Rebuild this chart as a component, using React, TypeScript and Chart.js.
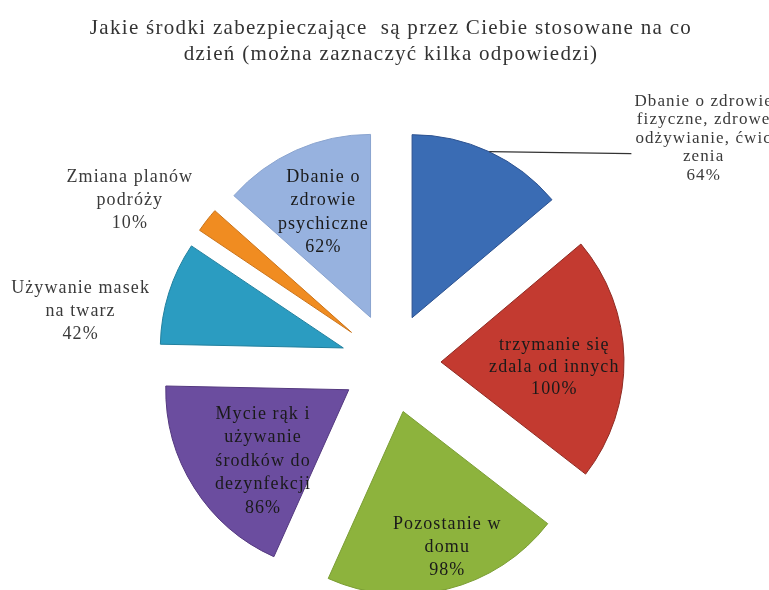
import React, { useEffect, useRef } from "react";
import { Chart, registerables } from "chart.js";

Chart.register(...registerables);

// ---- data ----
const titleLines = [
  "Jakie środki zabezpieczające  są przez Ciebie stosowane na co",
  "dzień (można zaznaczyć kilka odpowiedzi)",
];

const categories = [
  "Dbanie o zdrowie fizyczne, zdrowe odżywianie, ćwiczenia",
  "trzymanie się zdala od innych",
  "Pozostanie w domu",
  "Mycie rąk i używanie środków do dezynfekcji",
  "Używanie masek na twarz",
  "Zmiana planów podróży",
  "Dbanie o zdrowie psychiczne",
];

const values = [64, 100, 98, 86, 42, 10, 62];

const labelLines = [
  ["Dbanie o zdrowie", "fizyczne, zdrowe", "odżywianie, ćwic", "zenia"],
  ["trzymanie się", "zdala od innych"],
  ["Pozostanie w", "domu"],
  ["Mycie rąk i", "używanie", "środków do", "dezynfekcji"],
  ["Używanie masek", "na twarz"],
  ["Zmiana planów", "podróży"],
  ["Dbanie o", "zdrowie", "psychiczne"],
];

// ---- style ----
const fillColors = ["#3A6CB4", "#C33A30", "#8DB33D", "#6B4D9F", "#2B9CC1", "#F08C21", "#97B2DF"];
const borderColors = ["#2D5290", "#8E2A22", "#7A9D33", "#54397F", "#22809E", "#C9731A", "#8AA4CF"];
const EXPLODE = 50;
const RADIUS = 183;
// label placement relative to each exploded slice: radius factor and angle shift (deg)
const labelRadius = [1.87, 0.62, 0.78, 0.61, 1.45, 1.41, 0.63];
const labelAngle = [33.5, 4, -4, -7.5, -9.5, -7, 0];
const labelLineHeight = [18.5, 22, 23, 23.5, 23, 23, 23.5];
const labelOutside = [true, false, false, false, true, true, false];

const spacingPlugin = {
  id: "titleSpacing",
  beforeDraw(chart: any) {
    (chart.ctx as any).letterSpacing = "1.3px";
  },
  afterDraw(chart: any) {
    (chart.ctx as any).letterSpacing = "0px";
  },
};

const explodePlugin = {
  id: "explodeSlices",
  afterDatasetsUpdate(chart: any) {
    const meta = chart.getDatasetMeta(0);
    meta.data.forEach((el: any) => {
      const mid = (el.startAngle + el.endAngle) / 2;
      el.x = el.x + Math.cos(mid) * EXPLODE;
      el.y = el.y + Math.sin(mid) * EXPLODE;
    });
  },
};

const labelPlugin = {
  id: "sliceLabels",
  afterDatasetsDraw(chart: any) {
    const ctx = chart.ctx as CanvasRenderingContext2D;
    const meta = chart.getDatasetMeta(0);
    ctx.save();
    ctx.font = "18px 'Liberation Serif'";
    (ctx as any).letterSpacing = "1.1px";
    ctx.textAlign = "center";
    ctx.textBaseline = "middle";
    meta.data.forEach((el: any, i: number) => {
      const mid = (el.startAngle + el.endAngle) / 2;
      const a = mid + (labelAngle[i] * Math.PI) / 180;
      const r = labelRadius[i] * el.outerRadius;
      const cx = el.x + Math.cos(a) * r;
      const cy = el.y + Math.sin(a) * r;
      const lines = [...labelLines[i], values[i] + "%"];
      const lh = labelLineHeight[i];
      const y0 = cy - ((lines.length - 1) * lh) / 2;
      ctx.fillStyle = labelOutside[i] ? "#3A3A3A" : "#1A1A1A";
      if (i === 0) ctx.font = "17px 'Liberation Serif'";
      else ctx.font = "18px 'Liberation Serif'";
      lines.forEach((t, k) => ctx.fillText(t, cx, y0 + k * lh));
      if (i === 0) {
        // leader line from slice edge to label
        const sx = el.x + Math.cos(mid) * el.outerRadius;
        const sy = el.y + Math.sin(mid) * el.outerRadius;
        const w = ctx.measureText(lines[2]).width;
        const ex = cx - w / 2 - 4;
        const ey = sy + 2;
        ctx.beginPath();
        ctx.strokeStyle = "#333333";
        ctx.lineWidth = 1.2;
        ctx.moveTo(sx, sy);
        ctx.lineTo(ex, ey);
        ctx.stroke();
      }
    });
    ctx.restore();
  },
};

export default function App() {
  const ref = useRef<HTMLCanvasElement | null>(null);
  useEffect(() => {
    if (!ref.current) return;
    const chart = new Chart(ref.current, {
      type: "pie",
      data: {
        labels: categories,
        datasets: [
          {
            data: values,
            backgroundColor: fillColors,
            borderColor: borderColors,
            borderWidth: 1,
            clip: false as any,
          },
        ],
      },
      options: {
        responsive: false,
        animation: false,
        radius: RADIUS,
        layout: { padding: { left: 13, right: 0, top: 0, bottom: 0 } },
        plugins: {
          legend: { display: false },
          tooltip: { enabled: false },
          title: {
            display: true,
            text: titleLines,
            color: "#333333",
            font: { family: "'Liberation Serif'", size: 21, weight: "normal", lineHeight: 1.25 },
            padding: { top: 15, bottom: 68.5 },
          },
        },
      } as any,
      plugins: [spacingPlugin, explodePlugin, labelPlugin],
    });
    return () => chart.destroy();
  }, []);
  return (
    <div style={{ position: "fixed", left: 0, top: 0, width: 769, height: 590, background: "#fff" }}>
      <canvas ref={ref} width={769} height={590} />
    </div>
  );
}
